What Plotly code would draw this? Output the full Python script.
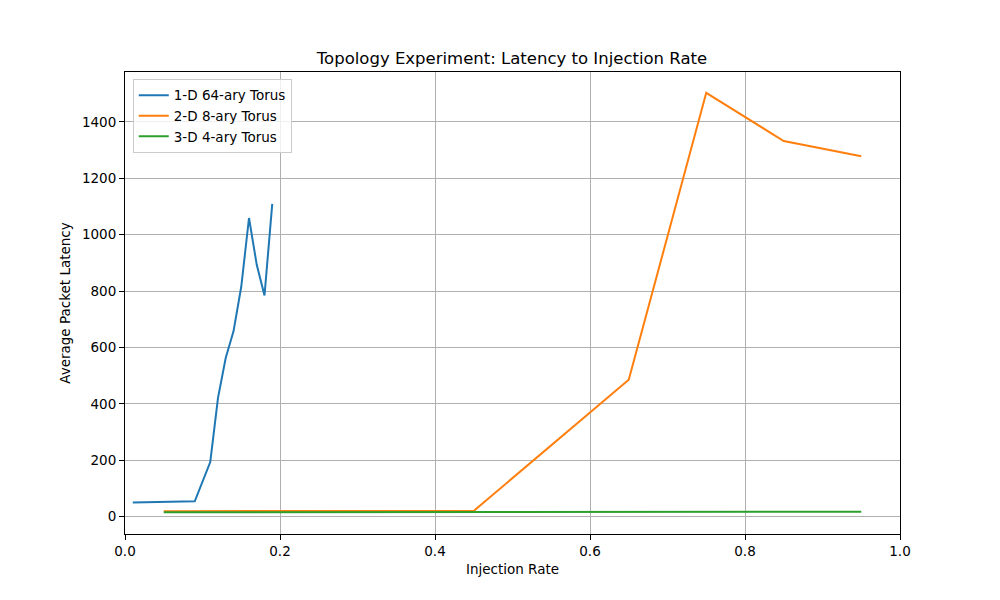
import plotly.graph_objects as go

# injection rate vs average packet latency, per topology
rate_1d = [0.01, 0.05, 0.09, 0.11, 0.12, 0.13, 0.14, 0.15, 0.16, 0.17, 0.18, 0.19]
lat_1d = [50, 51, 54, 193, 421, 563, 657, 815, 1059, 893, 784, 1109]

rate_2d = [0.05, 0.15, 0.25, 0.35, 0.45, 0.65, 0.75, 0.85, 0.95]
lat_2d = [19, 19, 19, 19.5, 20, 485, 1503, 1332, 1278]

rate_3d = [0.05, 0.15, 0.25, 0.35, 0.45, 0.55, 0.65, 0.75, 0.85, 0.95]
lat_3d = [15, 15, 15, 15, 15, 15, 15.5, 16, 16.5, 17]

x_ticks = [0.0, 0.2, 0.4, 0.6, 0.8, 1.0]
y_ticks = [0, 200, 400, 600, 800, 1000, 1200, 1400]

fig = go.Figure()
fig.add_trace(go.Scatter(x=rate_1d, y=lat_1d, mode="lines", name="1-D 64-ary Torus",
                         line=dict(color="#1f77b4", width=2)))
fig.add_trace(go.Scatter(x=rate_2d, y=lat_2d, mode="lines", name="2-D 8-ary Torus",
                         line=dict(color="#ff7f0e", width=2)))
fig.add_trace(go.Scatter(x=rate_3d, y=lat_3d, mode="lines", name="3-D 4-ary Torus",
                         line=dict(color="#2ca02c", width=2)))

axis_style = dict(
    showline=True, linecolor="black", linewidth=1, mirror=True,
    ticks="outside", ticklen=5, tickcolor="black", tickwidth=1,
    showgrid=True, gridcolor="#b0b0b0", gridwidth=1,
    zeroline=False,
    tickfont=dict(size=13.5, color="black"),
)

# page body has an 8px margin, so the margins are trimmed to match
fig.update_layout(
    width=1000, height=600,
    margin=dict(l=117, r=108, t=64, b=74),
    paper_bgcolor="white", plot_bgcolor="white",
    font=dict(family="DejaVu Sans", color="black"),
    title=dict(text="Topology Experiment: Latency to Injection Rate",
               x=0.504, xanchor="center", y=0.9167, yanchor="middle",
               font=dict(size=16.5, color="black")),
    legend=dict(x=0.01, y=0.985, xanchor="left", yanchor="top",
                bgcolor="rgba(255,255,255,0.8)", bordercolor="#cccccc", borderwidth=1,
                font=dict(size=13.5)),
    showlegend=True,
)
fig.update_xaxes(axis_style, range=[0, 1], tickvals=x_ticks,
                 ticktext=[f"{v:.1f}" for v in x_ticks],
                 title=dict(text="Injection Rate", font=dict(size=13.5), standoff=6))
fig.update_yaxes(axis_style, range=[-62, 1577], tickvals=y_ticks,
                 title=dict(text="Average Packet Latency", font=dict(size=13.5), standoff=8))

fig.write_html("out.html")
